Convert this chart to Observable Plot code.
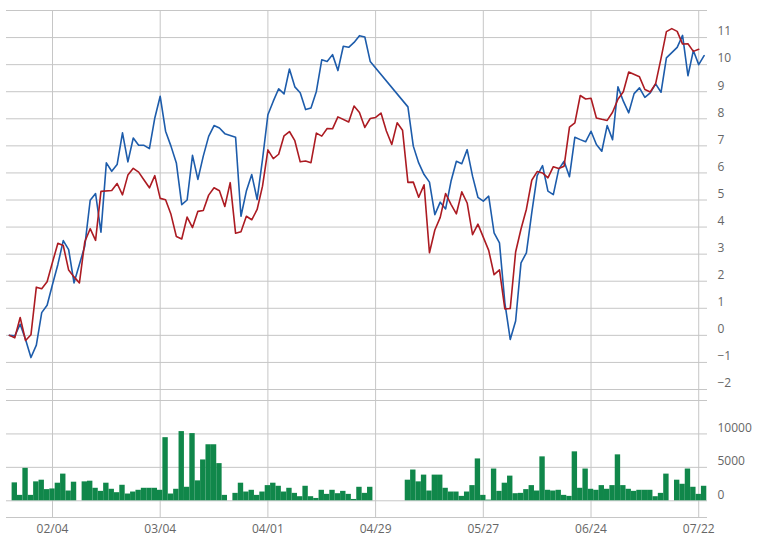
<!DOCTYPE html>
<html><head><meta charset="utf-8">
<script src="https://cdn.jsdelivr.net/npm/d3@7"></script>
<script src="https://cdn.jsdelivr.net/npm/@observablehq/plot@0.6"></script>
<style>
body{margin:0;background:#fff;}
#chart svg{display:block;}
</style></head><body><div id="chart"></div>
<script>
// Weekday slots 2019-01-23 .. 2019-07-23 (holidays kept as empty slots)
const firstDay = "2019-01-23", lastDay = "2019-07-23";
const tickLabels = ["02/04","03/04","04/01","04/29","05/27","06/24","07/22"];
const priceTicks = [-2,-1,0,1,2,3,4,5,6,7,8,9,10,11];
const priceGrid = [-2,-1,0,1,2,3,4,5,6,7,8,9,10,11,12];
const volumeTicks = [0,5000,10000];
const volumeGrid = [-2500,0,5000,10000,15000];

// stock (blue), % change
const blue = [
  0, -0.02, 0.41, -0.15, -0.82, -0.36, 0.84, 1.11, 1.88, 2.62,
  3.5, 3.17, 1.94, null, 3.3, 4.99, 5.24, 3.81, 6.37, 6.06,
  6.31, 7.48, 6.41, 7.29, 7.02, 7.02, 6.9, 8.03, 8.83, 7.54,
  6.99, 6.37, 4.83, 5.0, 6.65, 5.76, 6.62, 7.35, 7.75, 7.66,
  7.45, null, 7.32, 4.40, 5.33, 5.94, 5.02, 6.5, 8.15, 8.65,
  9.11, 8.92, 9.84, 9.18, 8.96, 8.34, 8.40, 9.01, 10.18, 10.12,
  10.37, 9.78, 10.68, 10.64, 10.82, 11.07, 11.02, 10.12, null, null,
  null, null, null, null, 8.44, 6.99, 6.37, 5.94, 5.66, 4.46,
  4.92, 4.67, 5.69, 6.43, 6.34, 6.86, 5.88, 5.1, 4.96, 5.14,
  3.79, 3.42, 1.2, -0.15, 0.53, 2.68, 3.05, 4.53, 5.9, 6.27,
  5.33, 5.2, 6.13, 6.43, 5.86, 7.32, 7.23, 7.15, 7.54, 7.05,
  6.8, 7.75, 7.23, 9.18, 8.65, 8.22, 8.93, 9.14, 8.79, 8.96,
  9.29, 8.98, 10.25, null, 10.64, 11.08, 9.59, 10.52, 10.0, 10.33
];
// benchmark (red), % change
const red = [
  0, -0.09, 0.66, -0.19, 0.02, 1.78, 1.72, 1.98, 2.70, 3.40,
  3.32, 2.41, 2.16, 1.94, 3.46, 3.94, 3.51, 5.32, null, 5.35,
  5.61, 5.19, 5.92, 6.17, 6.03, 5.74, 5.45, 5.90, 5.06, 5.01,
  4.47, 3.65, 3.56, 4.37, 3.98, 4.58, 4.61, 5.18, 5.45, 5.34,
  4.76, 5.64, 3.77, 3.83, 4.40, 4.27, 4.65, 5.51, 6.85, 6.53,
  6.69, 7.37, 7.53, 7.19, 6.41, 6.44, 6.38, 7.47, 7.36, 7.64,
  7.63, 8.07, null, 7.88, 8.47, 8.23, 7.68, 8.01, 8.05, 8.21,
  7.55, 7.05, 7.85, 7.58, 5.65, 5.66, 5.10, 5.56, 3.05, 3.89,
  4.36, 5.24, 4.84, 4.49, 5.30, 4.89, 3.72, 4.11, null, 3.14,
  2.24, 2.42, 0.98, 0.99, 3.08, 3.93, 4.66, 5.73, 6.05, 6.00,
  5.82, 6.23, 6.16, 6.25, 7.69, 7.85, 8.86, 8.73, 8.76, 8.03,
  7.98, 7.94, 8.24, 8.72, 9.00, 9.73, null, 9.55, 9.08, 8.99,
  9.30, 10.23, 11.22, 11.33, 11.23, 10.76, 10.77, 10.49, 10.57, null
];
// volume (green)
const volume = [
  null, 2680, 810, 4850, 810, 2830, 3080, 1670, 1770, 2630,
  3990, 1460, 2780, null, 2830, 2930, 1870, 1410, 2630, 1720,
  1210, 2320, 1010, 1310, 1570, 1870, 1870, 1870, 1570, 9440,
  1010, 1720, 10350, 2020, 10050, 2980, 6110, 8380, 8380, 5560,
  810, null, 1110, 2630, 1310, 1570, 810, 1310, 2270, 2630,
  2170, 1310, 1870, 1110, 610, 2170, 610, 350, 1570, 960,
  1570, 1060, 1410, 960, 200, 2020, 1110, 2020, null, null,
  null, null, null, null, 3080, 4600, 2830, 3840, 1460, 3840,
  3840, 1870, 1310, 1310, 660, 1310, 2270, 6260, 810, 100,
  4750, 1410, 2630, 3690, 1060, 1110, 1670, 2270, 1460, 6570,
  1570, 1460, 1570, 810, 660, 7320, 1870, 4750, 1720, 1570,
  2270, 1720, 2270, 6870, 2270, 1720, 1410, 1570, 1570, 1570,
  610, 1110, 3990, null, 3080, 2470, 4750, 2020, 960, 2170
];

const days = d3.utcDay.range(new Date(firstDay), d3.utcDay.offset(new Date(lastDay), 1))
  .filter(d => d.getUTCDay() % 6 !== 0);
const dates = days.map(d3.utcFormat("%m/%d"));
const rows = dates.map((date, i) => ({i, date, blue: blue[i], red: red[i], volume: volume[i]}));
const tickIdx = tickLabels.map(t => dates.indexOf(t));

const gridColor = "#c6c6c6";
const xDomain = [-0.54, dates.length - 0.37];
const style = {fontFamily: "'Open Sans', sans-serif", fontSize: "12px", color: "#666", background: "#fff"};

const topChart = Plot.plot({
  width: 760, height: 395,
  marginTop: 10, marginBottom: 6, marginLeft: 6, marginRight: 53,
  style,
  x: {domain: xDomain, axis: null},
  y: {domain: [-2, 12], axis: null},
  marks: [
    Plot.ruleY(priceGrid, {stroke: gridColor, strokeWidth: 1}),
    Plot.ruleX(tickIdx, {stroke: gridColor, strokeWidth: 1, insetBottom: -6}),
    Plot.axisY(priceTicks, {anchor: "right", tickSize: 0, tickPadding: 10, dy: -6, label: null}),
    Plot.lineY(rows, {filter: d => d.blue != null, x: "i", y: "blue", stroke: "#1d5cab", strokeWidth: 1.6}),
    Plot.lineY(rows, {filter: d => d.red != null, x: "i", y: "red", stroke: "#ac1b22", strokeWidth: 1.6})
  ]
});

const bottomChart = Plot.plot({
  width: 760, height: 152,
  marginTop: 5, marginBottom: 30, marginLeft: 6, marginRight: 53,
  style,
  x: {domain: xDomain, axis: null},
  y: {domain: [-2500, 15000], axis: null},
  marks: [
    Plot.ruleY(volumeGrid, {stroke: gridColor, strokeWidth: 1}),
    Plot.ruleX(tickIdx, {stroke: gridColor, strokeWidth: 1, insetTop: -5}),
    Plot.rect(rows, {filter: d => d.volume != null, x1: d => d.i - 0.5, x2: d => d.i + 0.5, y1: 0, y2: "volume", fill: "#10874a"}),
    Plot.axisY(volumeTicks, {anchor: "right", tickSize: 0, tickPadding: 10, dy: -6, label: null, tickFormat: d3.format("d")}),
    Plot.axisX(tickIdx, {anchor: "bottom", tickSize: 0, tickPadding: 7, label: null, tickFormat: i => dates[i]})
  ]
});

const el = document.getElementById("chart");
el.append(topChart, bottomChart);
</script>
</body></html>
